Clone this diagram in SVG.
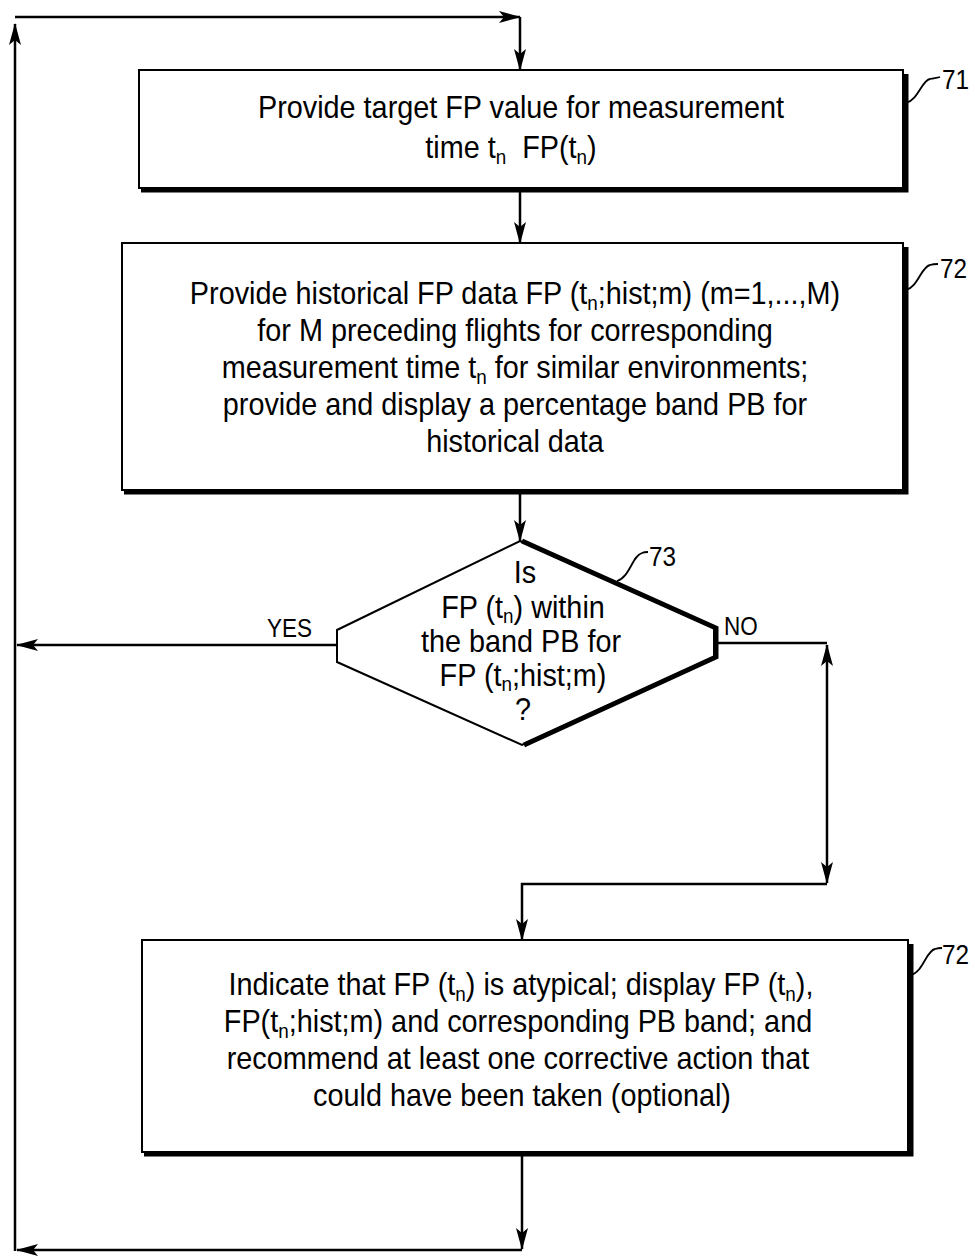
<svg xmlns="http://www.w3.org/2000/svg" width="975" height="1257" viewBox="0 0 975 1257">
<style>
  .box{fill:#fff;stroke:#000;stroke-width:2}
  .shadow{fill:none;stroke:#000;stroke-width:5}
  .t{font-family:"Liberation Sans",Arial,sans-serif;font-size:32px;fill:#000;text-anchor:middle}
  .lbl{font-family:"Liberation Sans",Arial,sans-serif;font-size:27px;fill:#000}
  .yn{font-family:"Liberation Sans",Arial,sans-serif;font-size:25px;fill:#000}
  .sub{font-size:21px}
  .conn{fill:none;stroke:#000;stroke-width:2.5}
  .lead{fill:none;stroke:#000;stroke-width:1.8}
</style>
<defs>
  <marker id="ah" viewBox="0 0 22 12" refX="21" refY="6" markerWidth="22" markerHeight="12" markerUnits="userSpaceOnUse" orient="auto-start-reverse">
    <path d="M0,0 L22,6 L0,12 L5,6 z" fill="#000"/>
  </marker>
</defs>
<rect width="975" height="1257" fill="#fff"/>

<g id="connectors">
  <path class="conn" d="M522,1152 V1249" marker-end="url(#ah)"/>
  <path class="conn" d="M522,1250 H17" marker-end="url(#ah)"/>
  <path class="conn" d="M15,1251 V24" marker-end="url(#ah)"/>
  <path class="conn" d="M15,17 H520" marker-end="url(#ah)"/>
  <path class="conn" d="M520,17 V70" marker-end="url(#ah)"/>
  <path class="conn" d="M520,188 V243" marker-end="url(#ah)"/>
  <path class="conn" d="M520,490 V541" marker-end="url(#ah)"/>
  <path class="conn" d="M337,645 H17" marker-end="url(#ah)"/>
  <path class="conn" d="M714,643 H827"/>
  <path class="conn" d="M827,645 V883" marker-start="url(#ah)" marker-end="url(#ah)"/>
  <path class="conn" d="M827,884 H522 V940" marker-end="url(#ah)"/>
  <text class="yn" transform="translate(267,637) scale(0.9,1)">YES</text>
  <text class="yn" transform="translate(724,635) scale(0.9,1)">NO</text>
</g>

<g id="node71">
  <path class="shadow" d="M906,74 V190 H141"/>
  <rect class="box" x="139" y="70" width="764" height="118"/>
  <text class="t" transform="translate(521,118) scale(0.9,1)">Provide target FP value for measurement</text>
  <text class="t" transform="translate(511,158) scale(0.9,1)">time t<tspan class="sub" dy="6">n</tspan><tspan dy="-6">&#160; FP(t</tspan><tspan class="sub" dy="6">n</tspan><tspan dy="-6">)</tspan></text>
  <path class="lead" d="M906,103 C918,100 922,80 930,79 C934,78 937,78 940,77"/>
  <text class="lbl" transform="translate(942,89) scale(0.9,1)">71</text>
</g>

<g id="node72">
  <path class="shadow" d="M906,247 V492 H124"/>
  <rect class="box" x="122" y="243" width="781" height="247"/>
  <text class="t" transform="translate(515,304) scale(0.9,1)">Provide historical FP data FP (t<tspan class="sub" dy="6">n</tspan><tspan dy="-6">;hist;m) (m=1,...,M)</tspan></text>
  <text class="t" transform="translate(515,341) scale(0.9,1)">for M preceding flights for corresponding</text>
  <text class="t" transform="translate(515,378) scale(0.9,1)">measurement time t<tspan class="sub" dy="6">n</tspan><tspan dy="-6"> for similar environments;</tspan></text>
  <text class="t" transform="translate(515,415) scale(0.9,1)">provide and display a percentage band PB for</text>
  <text class="t" transform="translate(515,452) scale(0.9,1)">historical data</text>
  <path class="lead" d="M906,290 C918,287 921,267 930,265 C933,264 935,264 938,264"/>
  <text class="lbl" transform="translate(940,278) scale(0.9,1)">72</text>
</g>

<g id="node73">
  <path d="M520,541 L714,628 L714,657 L522,745 L337,662 L337,630 Z" fill="#fff" stroke="#000" stroke-width="2"/>
  <path d="M522,541 L716,628 L716,657 L524,745" fill="none" stroke="#000" stroke-width="5"/>
  <text class="t" transform="translate(525,583) scale(0.9,1)">Is</text>
  <text class="t" transform="translate(523,618) scale(0.9,1)">FP (t<tspan class="sub" dy="5">n</tspan><tspan dy="-5">) within</tspan></text>
  <text class="t" transform="translate(521,652) scale(0.9,1)">the band PB for</text>
  <text class="t" transform="translate(523,686) scale(0.9,1)">FP (t<tspan class="sub" dy="5">n</tspan><tspan dy="-5">;hist;m)</tspan></text>
  <text class="t" transform="translate(523,720) scale(0.9,1)">?</text>
  <path class="lead" d="M617,581 C630,577 632,556 642,553 C644,552 646,552 648,552"/>
  <text class="lbl" transform="translate(649,566) scale(0.9,1)">73</text>
</g>

<g id="node74">
  <path class="shadow" d="M911,944 V1154 H144"/>
  <rect class="box" x="142" y="940" width="766" height="212"/>
  <text class="t" transform="translate(521,995) scale(0.9,1)">Indicate that FP (t<tspan class="sub" dy="6">n</tspan><tspan dy="-6">) is atypical; display FP (t</tspan><tspan class="sub" dy="6">n</tspan><tspan dy="-6">),</tspan></text>
  <text class="t" transform="translate(518,1032) scale(0.9,1)">FP(t<tspan class="sub" dy="6">n</tspan><tspan dy="-6">;hist;m) and corresponding PB band; and</tspan></text>
  <text class="t" transform="translate(518,1069) scale(0.9,1)">recommend at least one corrective action that</text>
  <text class="t" transform="translate(522,1106) scale(0.9,1)">could have been taken (optional)</text>
  <path class="lead" d="M911,975 C923,972 926,951 935,949 C938,948 940,948 942,948"/>
  <text class="lbl" transform="translate(942,964) scale(0.9,1)">72</text>
</g>
</svg>
